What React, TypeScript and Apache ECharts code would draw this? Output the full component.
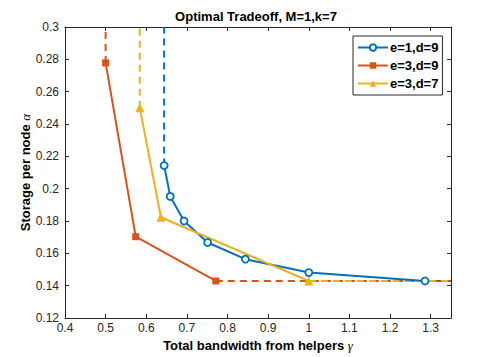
import React, { useEffect, useRef } from "react";
import * as echarts from "echarts";

const X_MIN = 0.4;
const X_MAX = 1.35;
const Y_MIN = 0.12;
const Y_MAX = 0.3;

const seriesNames = ["e=1,d=9", "e=3,d=9", "e=3,d=7"];
const blueX = [0.644, 0.659, 0.693, 0.751, 0.844, 1.0, 1.286];
const blueY = [0.2143, 0.1952, 0.18, 0.1667, 0.1564, 0.1481, 0.1429];
const redX = [0.5, 0.574, 0.771];
const redY = [0.2778, 0.1703, 0.1429];
const yellowX = [0.584, 0.636, 1.0];
const yellowY = [0.25, 0.1823, 0.1429];

const COLORS = ["#0072BD", "#D95319", "#EDB120"];
const SYMBOLS = ["circle", "rect", "triangle"];
const FONT = "'Liberation Sans', Arial, Helvetica, sans-serif";
const AXIS_COLOR = "#262626";

function fmt(v: number) {
  return String(parseFloat(v.toFixed(2)));
}

export default function App() {
  const ref = useRef<HTMLDivElement>(null);
  useEffect(() => {
    if (!ref.current) return;
    const chart = echarts.init(ref.current, undefined, { renderer: "svg" });
    const xs = [blueX, redX, yellowX];
    const ys = [blueY, redY, yellowY];

    const series: any[] = [];
    xs.forEach((xArr, i) => {
      const n = xArr.length;
      series.push({
        name: "v" + i,
        type: "line",
        data: [[xArr[0], ys[i][0]], [xArr[0], Y_MAX]],
        symbol: "none",
        lineStyle: { color: COLORS[i], width: 2, type: [7, 5] },
        silent: true,
        z: 1,
      });
      series.push({
        name: "h" + i,
        type: "line",
        data: [[xArr[n - 1], ys[i][n - 1]], [X_MAX, ys[i][n - 1]]],
        symbol: "none",
        lineStyle: { color: COLORS[i], width: 2, type: [7, 5] },
        silent: true,
        z: 1,
      });
    });
    xs.forEach((xArr, i) => {
      const isHollow = i === 0;
      series.push({
        name: seriesNames[i],
        type: "line",
        data: xArr.map((x, j) => [x, ys[i][j]]),
        symbol: SYMBOLS[i],
        symbolSize: i === 2 ? 9 : 7,
        showSymbol: true,
        lineStyle: { color: COLORS[i], width: 2 },
        itemStyle: isHollow
          ? { color: "#ffffff", borderColor: COLORS[i], borderWidth: 1.8 }
          : { color: COLORS[i], borderColor: COLORS[i], borderWidth: 0 },
        z: 3,
      });
    });

    const axisCommon = {
      type: "value",
      axisLine: { show: true, lineStyle: { color: AXIS_COLOR, width: 1 } },
      axisTick: { show: true, inside: true, length: 4, lineStyle: { color: AXIS_COLOR } },
      splitLine: { show: false },
    };

    chart.setOption({
      animation: false,
      backgroundColor: "#ffffff",
      title: {
        text: "Optimal Tradeoff, M=1,k=7",
        left: 256,
        top: 10,
        textAlign: "center",
        padding: 0,
        textStyle: { fontFamily: FONT, fontSize: 13, fontWeight: "bold", color: "#000" },
      },
      legend: {
        data: seriesNames,
        orient: "vertical",
        left: 353,
        top: 36,
        padding: [5, 4, 5, 4],
        itemGap: 5,
        itemWidth: 30,
        itemHeight: 8,
        borderColor: AXIS_COLOR,
        borderWidth: 1,
        borderRadius: 0,
        backgroundColor: "#ffffff",
        textStyle: { fontFamily: FONT, fontSize: 13, fontWeight: "bold", color: "#000", padding: [0, 0, 0, -3] },
      },
      grid: { left: 65, right: 47, top: 27, bottom: 39, containLabel: false },
      xAxis: [
        {
          ...axisCommon,
          position: "bottom",
          min: X_MIN,
          max: X_MAX,
          interval: 0.1,
          axisLabel: {
            show: true,
            fontFamily: FONT,
            fontSize: 12,
            color: AXIS_COLOR,
            margin: 4,
            showMaxLabel: false,
            formatter: (v: number) => (v > 1.31 ? "" : fmt(v)),
          },
          name: "Total bandwidth from helpers {g|γ}",
          nameLocation: "middle",
          nameGap: 21,
          nameMoveOverlap: false,
          nameTextStyle: {
            fontFamily: FONT,
            fontSize: 13,
            fontWeight: "bold",
            color: "#000",
            rich: {
              g: { fontFamily: "'Liberation Serif', serif", fontStyle: "italic", fontWeight: "normal", fontSize: 13, color: "#000" },
            },
          },
        },
        {
          ...axisCommon,
          position: "top",
          min: X_MIN,
          max: X_MAX,
          interval: 0.1,
          axisLabel: { show: false },
        },
      ],
      yAxis: [
        {
          ...axisCommon,
          position: "left",
          min: Y_MIN,
          max: Y_MAX,
          interval: 0.02,
          axisLabel: {
            show: true,
            fontFamily: FONT,
            fontSize: 12,
            color: AXIS_COLOR,
            margin: 6,
            formatter: (v: number) => fmt(v),
          },
          name: "Storage per node {a|α}",
          nameLocation: "middle",
          nameGap: 33,
          nameRotate: 90,
          nameMoveOverlap: false,
          nameTextStyle: {
            fontFamily: FONT,
            fontSize: 13,
            fontWeight: "bold",
            color: "#000",
            rich: {
              a: { fontFamily: "'Liberation Serif', serif", fontStyle: "italic", fontWeight: "normal", fontSize: 13, color: "#000" },
            },
          },
        },
        {
          ...axisCommon,
          position: "right",
          min: Y_MIN,
          max: Y_MAX,
          interval: 0.02,
          axisLabel: { show: false },
        },
      ],
      series,
    });
    return () => chart.dispose();
  }, []);
  return (
    <div
      ref={ref}
      style={{ position: "fixed", left: 0, top: 0, width: 498, height: 357 }}
    />
  );
}
